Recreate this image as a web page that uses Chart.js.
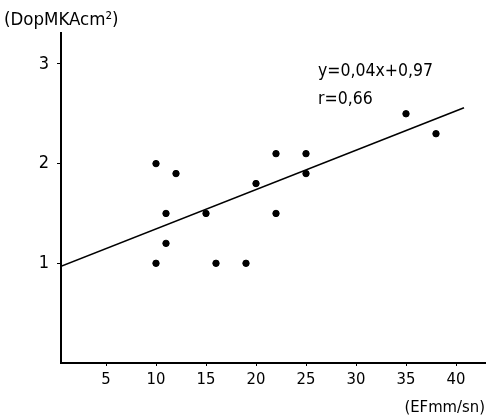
<!DOCTYPE html>
<html>
<head>
<meta charset="utf-8">
<script src="https://cdn.jsdelivr.net/npm/chart.js@4/dist/chart.umd.min.js"></script>
<style>
  html, body { margin: 0; padding: 0; background: #fff; }
  #wrap { width: 493px; height: 418px; }
</style>
</head>
<body>
<div id="wrap"><canvas id="grafico"></canvas></div>
<script>
// datos
const efX = [10, 12, 11, 15, 11, 10, 16, 19, 20, 22, 22, 25, 25, 35, 38];
const dopY = [2.0, 1.9, 1.5, 1.5, 1.2, 1.0, 1.0, 1.0, 1.8, 2.1, 1.5, 2.1, 1.9, 2.5, 2.3];
const lineaX = [0.5, 40.8];
const lineaY = [0.97, 2.56];
const xTicks = [5, 10, 15, 20, 25, 30, 35, 40];
const yTicks = [1, 2, 3];
const ecuacion = ['y=0,04x+0,97', 'r=0,66'];

const fuente = '"DejaVu Sans Condensed", "DejaVu Sans", sans-serif';

// textos sueltos (titulo del eje Y y ecuacion)
const textos = {
    id: 'textos',
    afterDraw(chart) {
        const ctx = chart.ctx;
        ctx.save();
        ctx.fillStyle = '#000';
        ctx.textBaseline = 'alphabetic';
        ctx.font = '500 18.5px ' + fuente;
        ctx.fillText('(DopMKAcm\u00B2)', 4, 25);
        ctx.font = '500 17.5px ' + fuente;
        ctx.fillText(ecuacion[0], 318, 76);
        ctx.fillText(ecuacion[1], 318, 104);
        ctx.restore();
    }
};

new Chart(document.getElementById('grafico'), {
    type: 'scatter',
    data: {
        datasets: [
            {
                data: efX.map((x, i) => ({ x: x, y: dopY[i] })),
                backgroundColor: '#000', borderColor: '#000',
                pointRadius: 3.2, pointHoverRadius: 3.2
            },
            {
                type: 'line',
                data: lineaX.map((x, i) => ({ x: x, y: lineaY[i] })),
                borderColor: '#000', borderWidth: 1.6,
                pointRadius: 0, fill: false
            }
        ]
    },
    options: {
        responsive: true, maintainAspectRatio: false, animation: false,
        layout: { padding: { left: 0, right: 8, top: 33, bottom: 0 } },
        plugins: { legend: { display: false }, tooltip: { enabled: false } },
        scales: {
            x: {
                type: 'linear', min: 0.5, max: 42.9,
                afterBuildTicks: s => { s.ticks = xTicks.map(v => ({ value: v })); },
                afterFit: s => { s.height = 55; },
                ticks: { color: '#000', font: { family: fuente, size: 16.5 }, padding: 4, maxRotation: 0 },
                grid: { display: true, drawOnChartArea: false, color: '#000', tickLength: 3 },
                border: { color: '#000', width: 2 },
                title: {
                    display: true, text: '(EFmm/sn)', align: 'end', color: '#000',
                    font: { family: fuente, size: 16.5 }, padding: { top: 2, bottom: 0 }
                }
            },
            y: {
                type: 'linear', min: 0, max: 3.31,
                afterBuildTicks: s => { s.ticks = yTicks.map(v => ({ value: v })); },
                afterFit: s => { s.width = 61; },
                ticks: { color: '#000', font: { family: fuente, size: 18 }, padding: 8 },
                grid: { display: true, drawOnChartArea: false, color: '#000', tickLength: 4 },
                border: { color: '#000', width: 2 }
            }
        }
    },
    plugins: [textos]
});
</script>
</body>
</html>
